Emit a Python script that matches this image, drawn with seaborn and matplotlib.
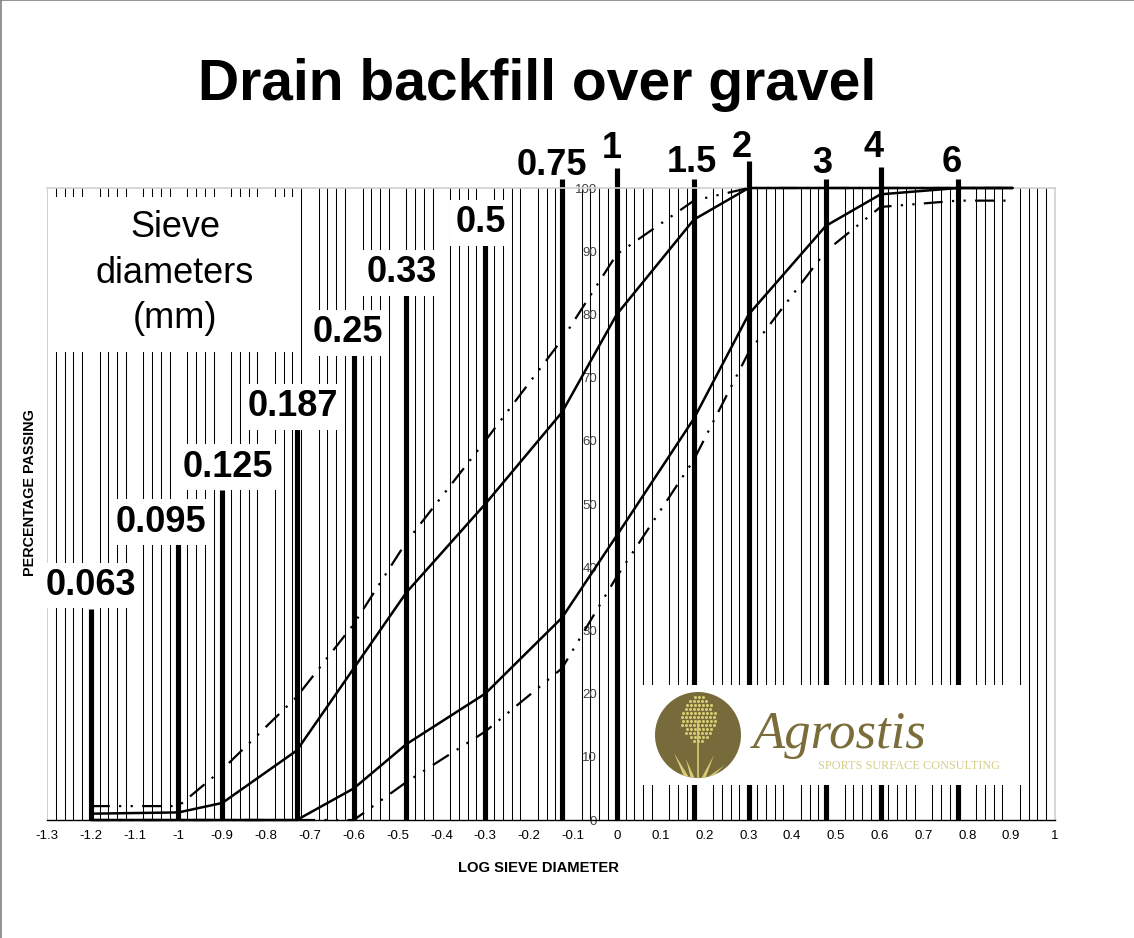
import numpy as np
import pandas as pd
import matplotlib
matplotlib.use("Agg")
import matplotlib.pyplot as plt
import seaborn as sns
from matplotlib.patches import Rectangle, Circle, Polygon
from matplotlib.lines import Line2D

# ---------------- data ----------------
sieve_labels = ["0.063", "0.095", "0.125", "0.187", "0.25", "0.33", "0.5",
                "0.75", "1", "1.5", "2", "3", "4", "6"]
sieve_log = [-1.2, -1.0, -0.9, -0.73, -0.6, -0.48, -0.3, -0.125,
             0.0, 0.176, 0.301, 0.477, 0.602, 0.778]

curve_log = [-1.2, -1.0, -0.9, -0.73, -0.6, -0.48, -0.3, -0.125,
             0.0, 0.176, 0.301, 0.477, 0.602, 0.778, 0.903]
fine_solid = [1, 1.2, 2.7, 11, 24, 36, 50, 64.5, 80, 95, 100, 100, 100, 100, 100]
fine_dashed = [2.2, 2.2, 8, 19.5, 31, 44, 60, 76, 89.5, 98, 100, 100, 100, 100, 100]
coarse_solid = [0, 0, 0, 0, 5, 12, 20, 32, 45, 63.5, 80, 94, 99, 100, 100]
coarse_dashed = [0, 0, 0, 0, 0, 6, 14, 24, 38.5, 57, 74, 90, 97, 98, 98]

x_tick_values = [-1.3, -1.2, -1.1, -1.0, -0.9, -0.8, -0.7, -0.6, -0.5, -0.4, -0.3, -0.2,
                 -0.1, 0.0, 0.1, 0.2, 0.3, 0.4, 0.5, 0.6, 0.7, 0.8, 0.9, 1.0]
x_tick_labels = ["-1.3", "-1.2", "-1.1", "-1", "-0.9", "-0.8", "-0.7", "-0.6", "-0.5",
                 "-0.4", "-0.3", "-0.2", "-0.1", "0", "0.1", "0.2", "0.3", "0.4", "0.5",
                 "0.6", "0.7", "0.8", "0.9", "1"]
y_tick_values = [0, 10, 20, 30, 40, 50, 60, 70, 80, 90, 100]

title = "Drain backfill over gravel"
x_title = "LOG SIEVE DIAMETER"
y_title = "PERCENTAGE PASSING"
box_lines = ["Sieve", "diameters", "(mm)"]

# ---------------- layout (not data) ----------------
line_tops = [33.4, 43.7, 52.2, 62.2, 73.9, 83.5, 91.3, 101.4, 103.2, 101.4, 104.3,
             101.4, 103.3, 101.4]
label_x = [-1.20, -1.04, -0.887, -0.739, -0.613, -0.490, -0.310, -0.148, -0.011,
           0.172, 0.286, 0.468, 0.585, 0.765]
label_base = [35.6, 45.6, 54.3, 63.9, 75.6, 85.1, 93.0, 102.1, 104.7, 102.5, 104.9,
              102.4, 104.9, 102.5]

W, H = 1134, 938

def px_rect(l, t, r, b):
    return [l / W, 1 - b / H, (r - l) / W, (b - t) / H]

sns.set_style("white")
plt.rcParams["font.family"] = ["Liberation Sans", "DejaVu Sans"]

fig = plt.figure(figsize=(W / 100, H / 100), dpi=100)
fig.patch.set_facecolor("white")

ax = fig.add_axes(px_rect(47, 188, 1055, 820))
ax.set_xlim(-1.3, 1.0)
ax.set_ylim(0, 100)

# grid: minor ticks every 0.02 (vertical), every 10 (horizontal)
ax.set_xticks(x_tick_values)
ax.set_xticklabels(x_tick_labels)
minor_x = np.round(np.arange(-1.28, 0.99, 0.02), 2)
ax.set_xticks(minor_x, minor=True)
ax.set_yticks(y_tick_values)
ax.set_yticks(y_tick_values[1:-1], minor=True)
ax.grid(False)
ax.grid(which="minor", axis="x", color="black", lw=0.75, zorder=0.5)
ax.grid(which="minor", axis="y", color="black", lw=0.75, zorder=0.5)
ax.set_axisbelow(True)

ax.tick_params(axis="x", which="major", direction="out", length=4, width=0.8,
               color="black", labelsize=9.5, pad=3, labelcolor="black")
ax.tick_params(axis="x", which="minor", length=0)
ax.tick_params(axis="y", which="both", length=0, labelsize=9.5, pad=14,
               labelcolor="#404040")

ax.spines["left"].set_position(("data", 0))
ax.spines["left"].set_color("black")
ax.spines["bottom"].set_color("black")
ax.spines["bottom"].set_linewidth(1.0)
for s in ("top", "right"):
    ax.spines[s].set_visible(True)
    ax.spines[s].set_color("#cfcfcf")
    ax.spines[s].set_linewidth(1.2)
ax.axvline(-1.3, color="#cfcfcf", lw=1.4, zorder=0.6)

# thick sieve lines
ax.vlines(sieve_log, 0, line_tops, colors="black", lw=3.7, zorder=2.5, clip_on=False)

# curves
dash_pat = (0, (8.5, 4.2, 1.0, 4.2, 1.0, 4.2))
series = [(fine_solid, "-", 1.8), (coarse_solid, "-", 1.8),
          (fine_dashed, dash_pat, 1.6), (coarse_dashed, dash_pat, 1.6)]
for vals, ls, lw in series:
    df = pd.DataFrame({"logd": curve_log, "pct": vals})
    sns.lineplot(data=df, x="logd", y="pct", ax=ax, color="black", lw=lw,
                 linestyle=ls, sort=False, estimator=None, legend=False,
                 clip_on=False, zorder=3)
for ln in ax.lines:
    ln.set_dash_capstyle("butt")
ax.set_xlabel("")
ax.set_ylabel("")

# sieve labels; white boxes only inside the plot area (where gridlines are hidden)
for xl, yb, lab in zip(label_x, label_base, sieve_labels):
    box = dict(boxstyle="square,pad=0.15", fc="white", ec="none") if yb < 100 else None
    ax.text(xl, yb, lab, ha="center", va="baseline", fontsize=26, fontweight="bold",
            color="black", zorder=5, clip_on=False, bbox=box)

# "Sieve diameters (mm)" box
ax.add_patch(Rectangle((-1.286, 74.05), 0.564, 24.55, fc="white", ec="none", zorder=4))
for txt, yb in zip(box_lines, [92.2, 84.9, 77.8]):
    ax.text(-1.008, yb, txt, ha="center", va="baseline", fontsize=26, color="black",
            zorder=5)

# titles
fig.text(537 / W, 1 - 100 / H, title, ha="center", va="baseline", fontsize=41,
         fontweight="bold", color="black")
fig.text(538 / W, 1 - 868 / H, x_title, ha="center", va="center", fontsize=10.6,
         fontweight="bold", color="black")
fig.text(30 / W, 1 - 493 / H, y_title, ha="center", va="center", fontsize=10.4,
         fontweight="bold", color="black", rotation=90)

# figure border
fig.add_artist(Line2D([0.5 / W, 0.5 / W], [0, 1], color="#808080", lw=1.2))
fig.add_artist(Line2D([0, 1], [1 - 0.5 / H, 1 - 0.5 / H], color="#808080", lw=1.2))

# logo
lg = fig.add_axes(px_rect(641, 685, 1027, 785))
lg.set_xlim(0, 386)
lg.set_ylim(0, 100)
lg.set_axis_off()
lg.add_patch(Rectangle((0, 0), 386, 100, fc="white", ec="none", zorder=0))
olive = "#776a3b"
pale = "#d8cd72"
circ = Circle((57, 50), 43, fc=olive, ec="none", zorder=1)
lg.add_patch(circ)
for gx in np.arange(-16, 17, 4):
    for gy in np.arange(-22, 23, 4):
        if (gx / 17) ** 2 + (gy / 24) ** 2 <= 1:
            lg.plot(57 + gx + (1 if (gy // 4) % 2 else 0), 66 + gy, "o", ms=2.2,
                    color=pale, mec="none", zorder=2)
lg.plot([57, 57], [7, 64], color=pale, lw=1.2, zorder=2)
leaves = [[(44, 6), (49, 6), (33, 32)], [(50, 6), (54, 6), (45, 26)],
          [(60, 6), (64, 6), (73, 30)], [(64, 6), (69, 6), (84, 20)]]
for lf in leaves:
    p = Polygon(lf, closed=True, fc=pale, ec="none", zorder=2)
    lg.add_patch(p)
    p.set_clip_path(circ)
lg.text(112, 37, "Agrostis", fontsize=38, style="italic", family="Liberation Serif",
        color="#7a6d3a", ha="left", va="baseline", zorder=3)
lg.text(177, 19, "SPORTS SURFACE CONSULTING", fontsize=8.8, family="Liberation Serif",
        color="#d6cf8a", ha="left", va="center", zorder=3)

fig.savefig("out.png", dpi=100, facecolor="white")
